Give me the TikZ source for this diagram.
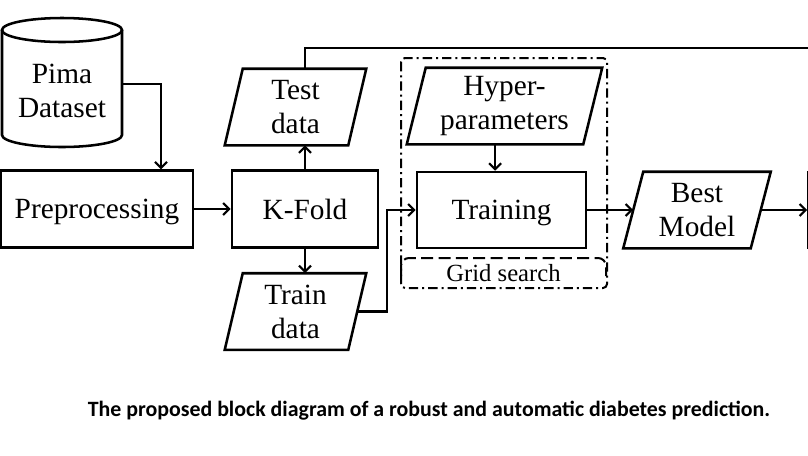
\documentclass[tikz,border=0pt]{standalone}
\usepackage{fontspec}
\setmainfont{Liberation Serif}
\newfontfamily\capfont{Carlito}
\usetikzlibrary{arrows.meta,calc}
\newcommand\para[6]{%
  \node[txt, minimum width=#4, minimum height=57pt] (#1) at (#2,#3) {#6};
  \draw[ln] ([xshift=#5]#1.north west) -- ([xshift=#5]#1.north east) -- ([xshift=-#5]#1.south east) -- ([xshift=-#5]#1.south west) -- cycle;}
\begin{document}
\begin{tikzpicture}[x=0.75pt,y=-0.75pt,
  ln/.style={line width=1.9pt, line join=miter},
  txt/.style={inner sep=0pt, align=center, font=\fontsize{22}{25.5}\selectfont},
  blk/.style={txt, ln, draw, minimum height=57.5pt, text depth=0pt},
  arr/.style={line width=1.6pt, -{Straight Barb[length=4.5pt,width=9pt,line width=1.6pt]}},
  conn/.style={line width=1.6pt},
  dashdot/.style={line width=1.5pt, dash pattern=on 7pt off 3pt on 1.5pt off 3pt},
  dashd/.style={line width=1.5pt, dash pattern=on 9pt off 4pt}]
\useasboundingbox (0,0) rectangle (808,455);
\clip (0,0) rectangle (808,455);
\fill[white] (0,0) rectangle (808,455);
% cylinder
\node[txt, minimum width=90pt, minimum height=90pt] (pima) at (62,91) {Pima\\Dataset};
\draw[ln] (2,30) -- (2,135) arc[start angle=180,end angle=360,x radius=45pt,y radius=9pt] -- (122,30);
\draw[ln] (62,30) ellipse[x radius=45pt,y radius=9pt];
% main row
\node[blk, minimum width=144pt] (prep) at (97,209) {Preprocessing};
\node[blk, minimum width=109.5pt] (kfold) at (305,209) {K-Fold};
\node[blk, minimum width=126.75pt, minimum height=57pt] (training) at (501.5,210) {Training};
\para{test}{295.5}{107}{92.25pt}{6.75pt}{Test\\data}
\para{train}{295.5}{311.5}{92.25pt}{6.75pt}{Train\\data}
\para{hyper}{504.5}{106}{132pt}{7.1pt}{Hyper-\\parameters}
\para{best}{697}{210}{95.25pt}{7.5pt}{Best\\Model}
\node[line width=1.4pt, draw, minimum width=60pt, minimum height=57pt] (next) at (848,210) {};
% grid search
\draw[dashdot, rounded corners=3pt] (401,58) rectangle (607,288);
\draw[dashd, rounded corners=6pt] (401,276) |- (606,258) -- (606,276);
\node[txt, font=\fontsize{18.5}{21}\selectfont] (grid) at (503.5,273) {Grid search};
% connectors
\coordinate (topright) at (820,48);
\coordinate (jog) at (387,210);
\draw[arr] ([yshift=5.5pt]pima.east) -| ([xshift=48pt]prep.north);
\draw[arr] (prep.east) -- (kfold.west);
\draw[arr] (kfold.north) -- (kfold.north |- test.south);
\draw[conn] (kfold.north |- test.north) |- (topright);
\draw[arr] (kfold.south) -- (kfold.south |- train.north);
\draw[arr] (train.east) -| (jog) -- (training.west);
\draw[arr] ([xshift=-7pt]hyper.south) -- ([xshift=-7pt]hyper.south |- training.north);
\draw[arr] (training.east) -- (best.west);
\draw[arr] (best.east) -- (next.west);
% caption
\node[inner sep=0pt, font=\capfont\bfseries\fontsize{16.4}{20}\selectfont] (caption) at (429,411) {The proposed block diagram of a robust and automatic diabetes prediction.};
\end{tikzpicture}
\end{document}
